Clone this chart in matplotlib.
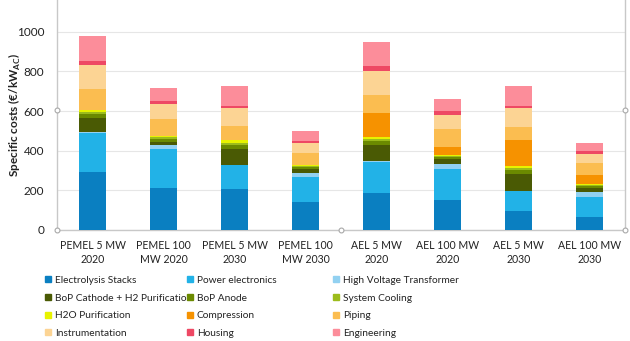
import numpy as np
import matplotlib.pyplot as plt
from matplotlib.patches import Patch

plt.rcParams['font.family'] = ['Lato', 'DejaVu Sans']

categories = ["PEMEL 5 MW\n2020", "PEMEL 100\nMW 2020", "PEMEL 5 MW\n2030", "PEMEL 100\nMW 2030",
              "AEL 5 MW\n2020", "AEL 100 MW\n2020", "AEL 5 MW\n2030", "AEL 100 MW\n2030"]

stacks        = [295, 210, 205, 143, 188, 152,  97,  64]
power_el      = [195, 198, 123, 123, 157, 155, 100, 101]
hv_trafo      = [  5,  20,   2,  22,   3,  27,   2,  25]
bop_cathode   = [ 70,  18,  80,  18,  82,  23,  84,  24]
bop_anode     = [ 20,  14,  20,  10,  18,  10,  20,   8]
sys_cooling   = [ 12,   8,  10,   6,  10,   6,  10,   5]
h2o_purif     = [ 10,   5,  12,   5,  10,   6,  12,   5]
compression   = [  0,   0,   0,   0, 120,  42, 130,  46]
piping        = [103,  87,  73,  63,  95,  88,  67,  59]
instrument    = [122,  75,  90,  47, 120,  72,  91,  47]
housing       = [ 18,  15,  12,  12,  22,  17,  13,  12]
engineering   = [130,  65, 100,  52, 123,  65,  98,  45]

series = [
    ("Electrolysis Stacks", stacks, "#0a7fc1"),
    ("Power electronics", power_el, "#22b2e7"),
    ("High Voltage Transformer", hv_trafo, "#92d1f1"),
    ("BoP Cathode + H2 Purification", bop_cathode, "#4a5a04"),
    ("BoP Anode", bop_anode, "#6b8a00"),
    ("System Cooling", sys_cooling, "#9cbc1c"),
    ("H2O Purification", h2o_purif, "#e8f300"),
    ("Compression", compression, "#f69200"),
    ("Piping", piping, "#fbbd50"),
    ("Instrumentation", instrument, "#fcd494"),
    ("Housing", housing, "#ee4864"),
    ("Engineering", engineering, "#fc8d9a"),
]

fig = plt.figure(figsize=(6.3, 3.41), dpi=100)
ax = fig.add_axes([57/630, 111/341, 568/630, 230/341])

x = np.arange(len(categories))
bottom = np.zeros(len(categories))
for name, vals, col in series:
    ax.bar(x, vals, width=0.39, bottom=bottom, color=col, label=name, zorder=3)
    bottom += np.array(vals)

ax.set_xlim(-0.5, len(categories) - 0.5)
ax.set_ylim(0, 1160)
ax.set_yticks([0, 200, 400, 600, 800, 1000])
ax.set_xticks(x)
ax.set_xticklabels(categories, fontsize=7.6, color="#222222", linespacing=1.35)
ax.tick_params(axis='y', length=0, labelsize=8.5, colors="#222222", pad=9)
ax.tick_params(axis='x', length=0, colors="#222222", pad=7)
ax.grid(axis='y', color="#e6e6e6", linewidth=0.8, zorder=0)

ax.spines['top'].set_visible(False)
for s in ['left', 'right', 'bottom']:
    ax.spines[s].set_color("#c8c8c8")
    ax.spines[s].set_linewidth(1.0)

# selection handles on the frame
hx = [0, 0, 0.5, 1, 1]
hy = [0, 0.52, 0, 0, 0.52]
ax.plot(hx, hy, 'o', ms=3.5, mfc='white', mec='#a8a8a8', mew=0.8,
        transform=ax.transAxes, clip_on=False, zorder=5)

fig.text(15/630, (341 - 115)/341, "Specific costs (€/kW$_{\\mathregular{AC}}$)", rotation=90,
         ha='center', va='center', fontsize=8.5, fontweight='bold', color="#222222")

# legend laid out row by row in three columns
col_x = [45/630, 187/630, 333/630]
for c in range(3):
    handles = [Patch(color=series[r*3 + c][2], label=series[r*3 + c][0]) for r in range(4)]
    leg = fig.legend(handles=handles, loc='upper left', bbox_to_anchor=(col_x[c], 65/341),
                     frameon=False, fontsize=7.3, handlelength=0.55, handleheight=0.55,
                     handletextpad=0.4, labelspacing=0.85, borderpad=0, borderaxespad=0)
    for t in leg.get_texts():
        t.set_color("#222222")

fig.savefig("out.png", dpi=100)
